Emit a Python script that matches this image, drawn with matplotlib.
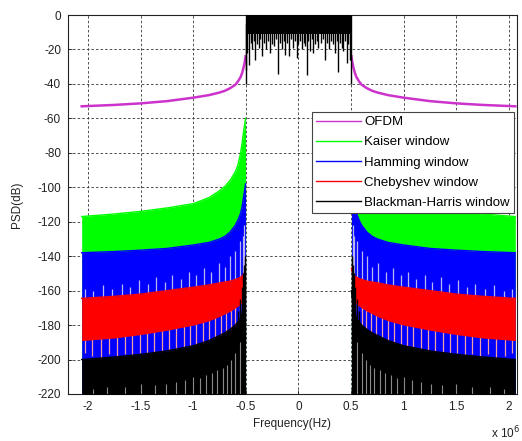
import numpy as np
import matplotlib
matplotlib.use('Agg')
import matplotlib.pyplot as plt

plt.rcParams['font.family'] = ['Liberation Sans', 'DejaVu Sans']
plt.rcParams['axes.unicode_minus'] = False

# ---------------- data (frequency in units of 10^6 Hz) ----------------
# out-of-band envelopes, positive half (spectrum mirrored about 0)
f_out = [0.503, 0.51, 0.52, 0.535, 0.55, 0.575, 0.6, 0.65, 0.7, 0.75, 0.85, 1.0, 1.25, 1.5, 1.75, 2.06]
ofdm_db = [-24, -27, -30, -33.5, -36, -38.5, -40.5, -42.5, -44, -45, -46.5, -48, -50, -51.3, -52.2, -53]
kaiser_top = [-60, -63, -67, -74, -80, -87, -91, -96, -99.5, -102, -106, -109.5, -112, -114, -115.5, -117]
hamming_top = [-98, -101, -105, -111, -115, -119, -122, -126, -128.5, -130, -132, -133.5, -135.5, -136.5, -137.3, -138]
cheb_top = [-147, -149, -150.5, -151.5, -152.2, -153, -153.5, -154.5, -155, -155.5, -156.7, -158, -160, -162, -163.3, -164.5]
cheb_bottom = [-163, -164, -165, -166.5, -168, -169, -170, -172, -173.5, -175, -177.5, -180, -183, -185.5, -187.5, -189]
bh_top = [-160, -164, -168, -173, -176, -178, -180, -182.5, -184.5, -186, -189, -192, -195, -197, -198.5, -200]
floor_db = -225

# in-band (all windows ~0 dB)
inband_f = [-0.503, 0.503]
inband_top = [0, 0]
inband_floor = [-11, -11]
inband_spk_f = [-0.495, -0.485, -0.47, -0.455, -0.44, -0.425, -0.41, -0.395, -0.38, -0.365,
                -0.35, -0.33, -0.31, -0.29, -0.27, -0.25, -0.23, -0.215, -0.197, -0.18,
                -0.16, -0.14, -0.125, -0.11, -0.095, -0.075, -0.05, -0.035, -0.016, 0.0,
                0.015, 0.03, 0.05, 0.065, 0.08, 0.095, 0.11, 0.125, 0.14, 0.16,
                0.175, 0.19, 0.21, 0.23, 0.25, 0.27, 0.29, 0.31, 0.33, 0.35,
                0.365, 0.38, 0.395, 0.41, 0.425, 0.44, 0.46, 0.475, 0.49]
inband_spk_db = [-32, -22, -29, -16, -20, -15, -26, -17, -19, -14,
                 -24, -16, -20, -15, -22, -17, -18, -14, -34, -16,
                 -20, -15, -23, -16, -24, -14, -19, -15, -25, -17,
                 -15, -20, -16, -18, -35, -15, -21, -14, -22, -17,
                 -15, -19, -16, -14, -26, -16, -20, -15, -17, -22,
                 -15, -33, -16, -19, -21, -15, -28, -17, -26]

# light gaps inside the Hamming band (tips), positive half
ham_gap_f = [0.515, 0.53, 0.56, 0.6, 0.65, 0.7, 0.76, 0.83, 0.9, 0.97, 1.04, 1.12, 1.2, 1.27,
             1.35, 1.43, 1.52, 1.6, 1.68, 1.77, 1.86, 1.95, 2.03]
ham_gap_db = [-122, -128, -131, -137, -140, -146, -144, -149, -147, -151, -149, -153, -151, -155,
              -152, -156, -154, -158, -156, -159, -157, -160, -159]

# light spikes below the Chebyshev band (tips), positive half
cheb_spk_f = [0.53, 0.56, 0.6, 0.64, 0.69, 0.74, 0.79, 0.85, 0.91, 0.97, 1.03, 1.09, 1.16, 1.23,
              1.3, 1.37, 1.44, 1.51, 1.58, 1.65, 1.72, 1.8, 1.88, 1.96, 2.03]
cheb_spk_db = [-172, -178, -181, -184, -186, -188, -189, -191, -192, -193, -195, -194, -196, -195,
               -197, -196, -198, -196, -198, -197, -199, -197, -199, -198, -196]

# Blackman-Harris spikes near band edge (tips), positive half
bh_spk_f = [0.508, 0.515, 0.525, 0.54, 0.555, 0.575]
bh_spk_db = [-140, -145, -150, -158, -165, -172]
# gaps inside the Blackman-Harris band (tips), positive half
bh_gap_f = [0.56, 0.6, 0.64, 0.68, 0.72, 0.77, 0.82, 0.88, 0.94, 1.0, 1.08, 1.16, 1.26, 1.36, 1.5, 1.65, 1.82, 1.95]
bh_gap_db = [-190, -196, -200, -203, -205, -206, -208, -209, -211, -210, -212, -213, -214, -215, -214, -216, -216, -217]

xticks = [-2, -1.5, -1, -0.5, 0, 0.5, 1, 1.5, 2]
xticklabels = ['-2', '-1.5', '-1', '-0.5', '0', '0.5', '1', '1.5', '2']
yticks = list(range(-220, 1, 20))

# ---------------- figure ----------------
fig = plt.figure(figsize=(5.22, 4.41), dpi=100)
ax = fig.add_axes([68 / 522, 1 - 394 / 441, 449 / 522, 379 / 441])

c_ofdm = '#cc33cc'
c_kai = '#00ff00'
c_ham = '#0000ff'
c_che = '#ff0000'
c_bh = '#000000'

fo = np.array(f_out)
for s in (-1, 1):
    x = s * fo
    lab = s > 0
    ax.plot(x, ofdm_db, color=c_ofdm, lw=1.8, label='OFDM' if lab else None, zorder=3)
    ax.fill_between(x, kaiser_top, floor_db, color=c_kai, lw=0, zorder=4)
    ax.plot(x, kaiser_top, color=c_kai, lw=1, label='Kaiser window' if lab else None, zorder=4)
    ax.fill_between(x, hamming_top, floor_db, color=c_ham, lw=0, zorder=5)
    ax.plot(x, hamming_top, color=c_ham, lw=1, label='Hamming window' if lab else None, zorder=5)
    ax.vlines(s * np.array(ham_gap_f), ham_gap_db, -172, color='#b8b8ee', lw=0.9, zorder=5.2)
    ax.vlines(s * np.array(cheb_spk_f), -165, cheb_spk_db, color='#f2a0a0', lw=0.9, zorder=5.3)
    ax.fill_between(x, cheb_top, cheb_bottom, color=c_che, lw=0, zorder=6)
    ax.plot(x, cheb_top, color=c_che, lw=1, label='Chebyshev window' if lab else None, zorder=6)
    ax.fill_between(x, bh_top, floor_db, color=c_bh, lw=0, zorder=7)
    ax.plot(x, bh_top, color=c_bh, lw=1, label='Blackman-Harris window' if lab else None, zorder=7)
    ax.vlines(s * np.array(bh_spk_f), -190, bh_spk_db, color=c_bh, lw=1.0, zorder=7.1)
    ax.vlines(s * np.array(bh_gap_f), floor_db, bh_gap_db, color='#8a8a8a', lw=0.8, zorder=7.2)

# in-band
ax.fill_between(inband_f, inband_top, inband_floor, color=c_bh, lw=0, zorder=7)
ax.vlines(inband_spk_f, -5, inband_spk_db, color=c_bh, lw=1.0, zorder=7)
ax.vlines([-0.503, 0.503], -40, 0, color=c_bh, lw=1.0, zorder=7)

ax.set_xlim(-2.19, 2.076)
ax.set_ylim(-220, 0)
ax.set_xticks(xticks)
ax.set_xticklabels(xticklabels)
ax.set_yticks(yticks)
ax.tick_params(direction='in', length=3, width=0.6, labelsize=8.5, colors='#222222', pad=5)
ax.set_axisbelow(True)
ax.grid(True, linestyle=(0, (3, 2.5)), color='#333333', lw=0.6)
for sp in ax.spines.values():
    sp.set_linewidth(0.8)
    sp.set_color('#222222')

ax.set_xlabel('Frequency(Hz)', fontsize=8.5, color='#222222', labelpad=4)
ax.set_ylabel('PSD(dB)', fontsize=8.5, color='#222222', labelpad=10)
fig.text(0.997, 1 - 433 / 441, 'x 10$^6$', fontsize=8.5, color='#222222', ha='right', va='center')

leg = ax.legend(loc='upper right', bbox_to_anchor=(0.993, 0.744), borderaxespad=0,
                fontsize=9.5, handlelength=3.4, handletextpad=0.25, labelspacing=0.6,
                fancybox=False, framealpha=1, edgecolor='#444444', borderpad=0.3)
leg.get_frame().set_linewidth(0.8)
leg.set_zorder(20)
for h in leg.get_lines():
    h.set_linewidth(1.0)

fig.savefig('out.png', dpi=100)
